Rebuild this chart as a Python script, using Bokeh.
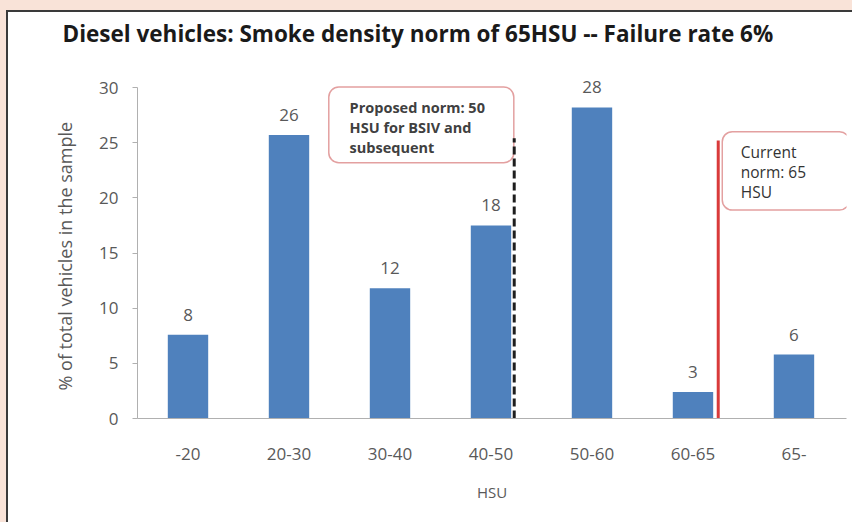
from bokeh.plotting import figure
from bokeh.models import Range1d, FixedTicker, BoxAnnotation, ColumnDataSource, Title
from bokeh.embed import file_html
from bokeh.resources import INLINE
from bokeh.core.properties import value

# ---- data ----
categories = ["-20", "20-30", "30-40", "40-50", "50-60", "60-65", "65-"]
shares = [7.6, 25.7, 11.8, 17.5, 28.2, 2.4, 5.8]
share_labels = ["8", "26", "12", "18", "28", "3", "6"]
y_ticks = [0, 5, 10, 15, 20, 25, 30]

title_text = "Diesel vehicles: Smoke density norm of 65HSU -- Failure rate 6%"
y_label = "% of total vehicles in the sample"
x_label = "HSU"
proposed_lines = ["Proposed norm: 50", "HSU for BSIV and", "subsequent"]
current_lines = ["Current", "norm: 65", "HSU"]

# norm marker lines (x in category-index units, y in %)
proposed_x, proposed_top = 3.73, 25.4
current_x, current_top = 5.75, 25.2

FONT = "Open Sans"
GREY = "#595959"

positions = [i + 0.5 for i in range(len(categories))]
src = ColumnDataSource(dict(x=positions, top=shares, label=share_labels))

p = figure(width=852, height=522, x_range=Range1d(0, 7.02), y_range=Range1d(0, 33),
           output_backend="svg", toolbar_location=None,
           min_border_left=137, min_border_right=6, min_border_top=54, min_border_bottom=104)
p.outline_line_color = None
p.grid.visible = False
p.background_fill_color = "white"
p.border_fill_color = None
p.styles = {"background-color": "white",
            "box-shadow": "inset 6px 10px 0 0 #f9e3d8, inset 8px 12px 0 0 #3a3a3a"}

# title
p.title.text = title_text
p.title.align = "left"
p.title.offset = -75
p.title.standoff = 12
p.title.text_font = FONT
p.title.text_font_size = "22.5px"
p.title.text_font_style = "bold"
p.title.text_color = "#1a1a1a"

# y-axis label (as a left-side title so it can be placed along the 0-30 axis span)
p.add_layout(Title(text=y_label, align="left", offset=28, standoff=39,
                   text_font=FONT, text_font_size="18px", text_font_style="normal",
                   text_color=GREY), "left")

# annotation boxes (behind glyphs)
p.add_layout(BoxAnnotation(left=1.894, right=3.726, top=30.05, bottom=23.19,
                           fill_color="white", fill_alpha=1.0, line_color="#e3a0a0",
                           line_alpha=1.0, line_width=1.5, border_radius=10, level="underlay"))
p.add_layout(BoxAnnotation(left=5.79, right=7.05, top=26.0, bottom=18.9,
                           fill_color="white", fill_alpha=1.0, line_color="#e3a0a0",
                           line_alpha=1.0, line_width=1.5, border_radius=10, level="underlay"))

p.vbar(x="x", top="top", width=0.4, source=src, fill_color="#4f81bd", line_color=None)
p.text(x="x", y="top", text="label", source=src, y_offset=-20,
       text_align="center", text_baseline="alphabetic",
       text_font=value(FONT), text_font_size="17px", text_color=GREY)

p.segment(x0=[proposed_x], y0=[0], x1=[proposed_x], y1=[proposed_top],
          line_color="#1e1e1e", line_width=3, line_dash="8 4")
p.segment(x0=[current_x], y0=[0], x1=[current_x], y1=[current_top],
          line_color="#d93a3a", line_width=3)

p.text(x=[2.10] * 3, y=[29.06] * 3, text=proposed_lines, y_offset=[0, 20, 40],
       text_baseline="top", text_align="left", text_font=value(FONT),
       text_font_size="14.5px", text_font_style="bold", text_color="#404040")
p.text(x=[5.973] * 3, y=[25.12] * 3, text=current_lines, y_offset=[0, 20, 40],
       text_baseline="top", text_align="left", text_font=value(FONT),
       text_font_size="15.5px", text_color="#333333")

# axes
xa = p.xaxis[0]
xa.ticker = FixedTicker(ticks=positions)
xa.major_label_overrides = {pos: cat for pos, cat in zip(positions, categories)}
xa.major_tick_out = 0
xa.major_tick_in = 0
xa.minor_tick_out = 0
xa.minor_tick_in = 0
xa.axis_line_color = "#b0b0b0"
xa.major_label_standoff = 29
xa.major_label_text_font = FONT
xa.major_label_text_font_size = "17px"
xa.major_label_text_color = GREY
xa.axis_label = x_label
xa.axis_label_text_font = FONT
xa.axis_label_text_font_size = "15px"
xa.axis_label_text_font_style = "normal"
xa.axis_label_text_color = GREY
xa.axis_label_standoff = 19

ya = p.yaxis[0]
ya.bounds = (0, 30)
ya.ticker = FixedTicker(ticks=y_ticks)
ya.major_tick_out = 5
ya.major_tick_in = 0
ya.minor_tick_out = 0
ya.minor_tick_in = 0
ya.axis_line_color = "#b0b0b0"
ya.major_tick_line_color = "#b0b0b0"
ya.major_label_standoff = 14
ya.major_label_text_font = FONT
ya.major_label_text_font_size = "17px"
ya.major_label_text_color = GREY

open("out.html", "w").write(file_html(p, INLINE))
